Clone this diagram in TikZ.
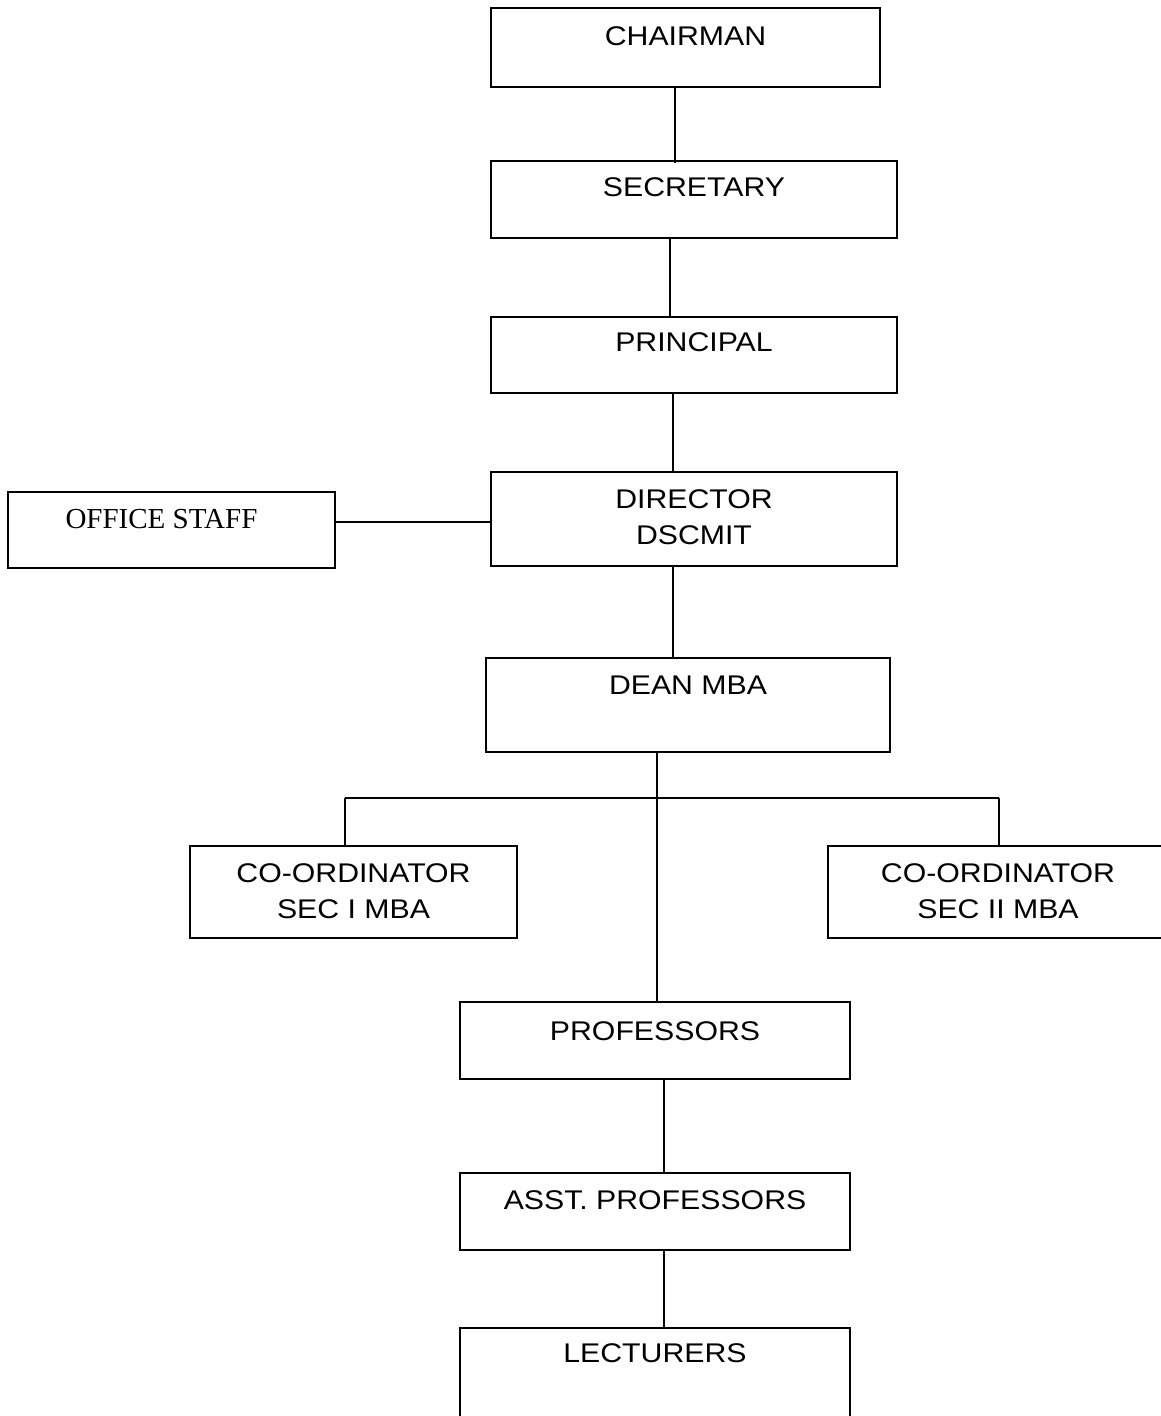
\documentclass[tikz,border=0pt]{standalone}
\usepackage{fontspec}
\setmainfont{Liberation Sans}[FakeStretch=1.12]
\newfontfamily\timesfnt{Liberation Serif}
\begin{document}
\begin{tikzpicture}[x=1pt,y=-1pt,
  box/.style={draw=black, line width=1.4pt, inner sep=0pt, fill=none},
  lbl/.style={anchor=center, font=\fontsize{27}{36}\selectfont, align=center, inner sep=0pt},
  conn/.style={draw=black, line width=1.3pt}]
\useasboundingbox (0,0) rectangle (1161,1416);
\fill[white] (0,0) rectangle (1161,1416);
\clip (0,0) rectangle (1161,1416);

\node[box, minimum width=389pt, minimum height=79pt,
  label={[lbl, name=tchair, yshift=-29pt]north:CHAIRMAN}] (chair) at (685.5,47.5) {};
\node[box, minimum width=406pt, minimum height=77pt,
  label={[lbl, name=tsec, yshift=-27pt]north:SECRETARY}] (sec) at (694,199.5) {};
\node[box, minimum width=406pt, minimum height=76pt,
  label={[lbl, name=tprin, yshift=-26pt]north:PRINCIPAL}] (prin) at (694,355) {};
\node[box, minimum width=406pt, minimum height=94pt,
  label={[lbl, name=tdir, yshift=-45.5pt]north:DIRECTOR\\DSCMIT}] (dir) at (694,519) {};
\node[box, minimum width=327pt, minimum height=76pt,
  label={[lbl, name=toff, yshift=-28pt, xshift=-10pt, font=\timesfnt\fontsize{29}{36}\selectfont]north:OFFICE STAFF}] (off) at (171.5,530) {};
\node[box, minimum width=404pt, minimum height=94pt,
  label={[lbl, name=tdean, yshift=-28pt]north:DEAN MBA}] (dean) at (688,705) {};
\node[box, minimum width=327pt, minimum height=92pt,
  label={[lbl, name=tco1, yshift=-46pt]north:CO-ORDINATOR\\SEC I MBA}] (co1) at (353.5,892) {};
\node[box, minimum width=340pt, minimum height=92pt,
  label={[lbl, name=tco2, yshift=-46pt]north:CO-ORDINATOR\\SEC II MBA}] (co2) at (998,892) {};
\node[box, minimum width=390pt, minimum height=77pt,
  label={[lbl, name=tprof, yshift=-29.5pt]north:PROFESSORS}] (prof) at (655,1040.5) {};
\node[box, minimum width=390pt, minimum height=77pt,
  label={[lbl, name=tasst, yshift=-28pt]north:ASST. PROFESSORS}] (asst) at (655,1211.5) {};
\node[box, minimum width=390pt, minimum height=94pt,
  label={[lbl, name=tlect, yshift=-26pt]north:LECTURERS}] (lect) at (655,1375) {};

\coordinate (xa) at (675,0);
\coordinate (xb) at (670,0);
\coordinate (xc) at (673,0);
\coordinate (xd) at (657,0);
\coordinate (xe) at (664,0);
\coordinate (yoff) at (0,522);
\coordinate (bl) at (345,798);
\coordinate (br) at (999,798);

\draw[conn] (chair.south -| xa) -- ([yshift=-3pt]sec.north -| xa);
\draw[conn] (sec.south -| xb) -- (prin.north -| xb);
\draw[conn] (prin.south -| xc) -- (dir.north -| xc);
\draw[conn] (dir.south -| xc) -- (dean.north -| xc);
\draw[conn] (off.east |- yoff) -- (dir.west |- yoff);
\draw[conn] (dean.south -| xd) -- (prof.north -| xd);
\draw[conn] (bl) -- (br);
\draw[conn] (bl) -- (co1.north -| bl);
\draw[conn] (br) -- (co2.north -| br);
\draw[conn] (prof.south -| xe) -- (asst.north -| xe);
\draw[conn] (asst.south -| xe) -- (lect.north -| xe);
\end{tikzpicture}
\end{document}
